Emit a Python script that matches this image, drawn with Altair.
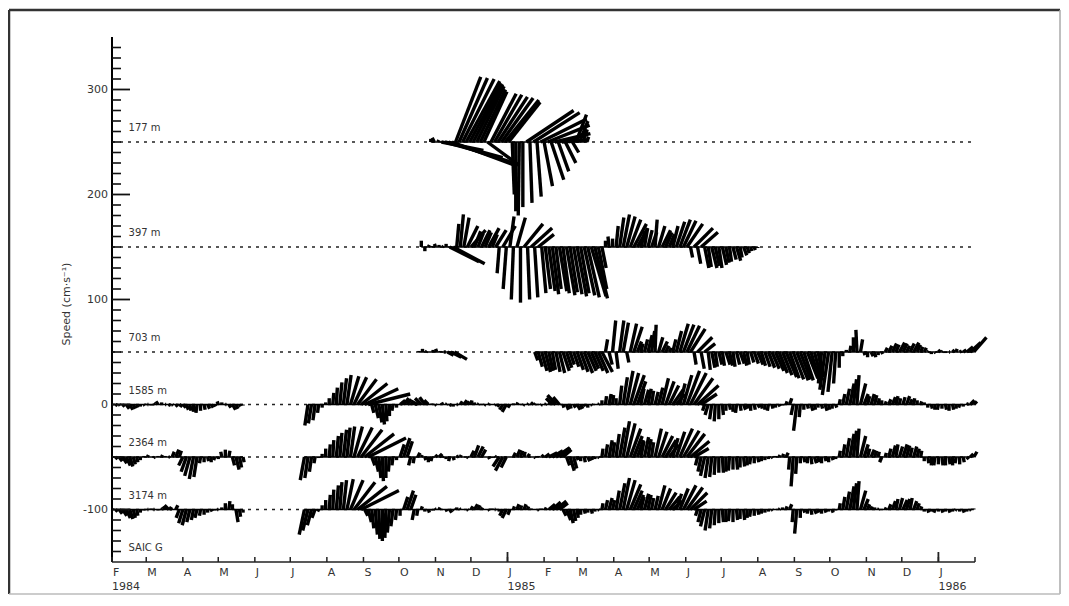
import altair as alt
import pandas as pd

# ---------------- data ----------------
DEPTHS = ["177 m", "397 m", "703 m", "1585 m", "2364 m", "3174 m"]
OFFSETS = [250, 150, 50, 0, -50, -100]
MOORING = "SAIC G"
MOORING_Y = -137
START, END = "1984-02-01", "1986-02-01"
STEP = 3            # days between sticks
DOTTED_END_DAY = 728
LABEL_DAY = 14
LABEL_RISE = 13
MAJOR_Y = [-100, 0, 100, 200, 300]
MINOR_Y = [v for v in range(-140, 350, 10) if v % 100 != 0]
MONTH_LETTERS = ["F", "M", "A", "M", "J", "J", "A", "S", "O", "N", "D", "J",
                 "F", "M", "A", "M", "J", "J", "A", "S", "O", "N", "D", "J"]
YEAR_DATES = ["1984-02-01", "1985-01-01", "1986-01-01"]
YEAR_TEXT = ["1984", "1985", "1986"]
Y_TITLE = "Speed (cm·s⁻¹)"

# 177 m : start day 270
u177 = [0, -2, 1, 40, 55, 62, 62, 24, 27, 30, 32, 30, 28, 26, 24, 22, 30, 24, 26, 28,
        30, 32, 30, 2, 0, -1, 0, 45, 2, 44, 4, 44, 8, 40, 12, 34, 10, 26, 10, 18,
        6, 10, 8, 4, 2]
v177 = [3, 4, 2, -8, -15, -20, -23, 62, 61, 60, 58, 56, 55, 53, 50, 48, -22, 46, 45, 43,
        42, 40, 38, -50, -66, -70, -62, 30, -58, 28, -52, 22, -42, 16, -36, 8, -28, 2, -20, 10,
        -10, 26, 20, 12, 5]

# 397 m : start day 262
u397 = [0, 0, 1, 0, -1, 0, 1, 0, 28, 30, 2, 3, 5, 10, 14, 6, 5, 8, 6, 10,
        5, 10, -2, 12, -3, 4, -2, 8, 0, 18, 2, 20, 3, 15, 4, 5, 6, 6, 5, 7,
        6, 8, 7, 8, 9, 8, 10, 11, 14, 12, 8, 4, 0, -1, 0, 2, 4, 6, 8, 10,
        12, 10, 4, 3, 4, 5, 2, 6, 8, 6, 5, 5, 8, 10, 12, 15, 2, 18, 3, 16,
        4, 3, 5, 4, 3, 4, 3, 2, 3, 4, 2, 3, 2, 1, 1, 0]
v397 = [6, -4, 2, 1, 3, 2, 1, 3, -14, -16, 22, 31, 28, 20, 16, 15, 13, 16, 14, 18,
        12, 16, -25, 20, -40, 29, -50, 28, -53, 22, -50, 18, -48, 12, -44, -40, -42, -45, -40, -42,
        -44, -46, -43, -45, -47, -44, -46, -48, -47, -49, -40, -20, 6, 10, 8, 20, 28, 31, 29, 26,
        22, 18, 15, 18, 16, 14, 26, 20, 16, 14, 12, 20, 24, 26, 25, 22, -10, 18, -16, 14,
        -20, -19, -20, -18, -20, -17, -15, -14, -12, -13, -10, -8, -6, -4, -3, -1]

# 703 m : pieces starting day 260 and day 358
u703a = [0, 0, 1, 0, 0, -1, 0, 2, 6, 10, 12]
v703a = [1, 3, 1, 0, 2, 3, 1, 0, -3, -5, -7]
u703b = [3, 4, 5, 5, 4, 3, 4, 5, 6, 5, 4, 5, 6, 7, 8, 8, 7, 8, 9, 10,
         2, 3, 3, 2, 4, 5, 2, 6, 8, 4, 2, 3, 4, 3, 1, 4, 5, 3, 2,
         3, 5, 8, 10, 12, 14, 2, 14, 3, 10, 2,
         3, 2, 3, 2, 4, 3, 2, 3, 4, 3, 2, 3, 4, 5, 4, 5,
         6, 7, 8, 8, 9, 10, 9, 10, 11, 10, 9, 10, 8, 7, 5,
         -3, -5, -6, -4, -2, 0, 0, 0, 1, 0, -1, 2, 1, 0, 2, 1, 0, 1,
         2, 3, 4, 3, 5, 4, 3, 4, 5, 3, 2, 2, 1, 0, 1, 2, 1, 0, 1, 2, 1, 2, 3, 6, 10, 12]
v703b = [-8, -14, -18, -19, -18, -17, -19, -20, -18, -15, -12, -14, -17, -19, -20, -18, -16, -18, -20, -19,
         12, -12, 30, -16, 30, 28, -10, 27, 24, 10, 8, 12, 16, 20, 26, 14, 10, 6, 4, 12,
         20, 27, 26, 25, 22, -12, 14, -16, 8, -17, -15, -14, -12, -13, -12, -13, -14, -12, -11, -13,
         -12, -10, -11, -12, -13, -14, -15, -16, -18, -20, -22, -24, -25, -26, -27, -26, -27, -25, -26, -27,
         -24, -30, -36, -41, -38, -30, -15, -4, 2, 6, 14, 21, 12, -3, -5, -4, -5, -3, -2, 4,
         6, 8, 7, 9, 8, 6, 8, 9, 7, 5, 4, 1, -2, -1, 2, 1, -1, 0, 2, 3, 1, 2, 5, 9, 14]

# 1585 m : pieces starting day 0 and day 166
u1585a = [1, 2, 1, 2, 3, 3, 2, 1, 0, 1, 1, 0, -1, -2, 0, 1, 2, 1, 2, 3,
          3, 2, 1, 0, -1, 0, 1, 2, 2, 1, -1, 0, 1, 2, 3, 2, 1, 0]
v1585a = [0, -1, -1, -2, -4, -5, -4, -3, -2, -1, 0, -1, 1, 3, 2, 0, -1, -1, -2, -2,
          -3, -5, -6, -7, -8, -6, -5, -4, -3, -2, 3, 2, 0, -3, -5, -4, -2, -1]
u1585b = [-3, -3, -2, -1, 0, 0, 0, 1, 1, 2, 3, 4, 8, 12, 18, 25, 32, 40,
          2, 3, 3, 2, 1, 0, -1, 0, 5, 5, 4, 3, 2, -6, -6, -5, -4,
          0, 1, 0, -1, 1, 2, 0, 1, 2, 3, 2, 1, 0, 1, 0, -1, 1, 0, -1, -2,
          -3, -4, -2, 0, 1, 0, -1, 1, 2, 1, 0, -1, 1, 2, -6, -8, -6,
          1, 2, 1, 2, 3, 2, 1, 0, 1, 0, 1, 0, 1, 2, 1, 0,
          2, 4, 6, 8, 10, 8, 3, 4, 3, 2, 3, 4, 6, 8, 9, 10, 8,
          5, 8, 12, 15, 18, 20, 15, -2, -3, -2, -1, 0, 1, 0,
          1, 0, -1, 1, 2, 1, 0, 1, 2, 1, 0, -1, 1, 0, 1, 0,
          1, 2, -2, -3, -1, 0, 1, 2, 1, 0, 1, 2, 1, 0, 1,
          1, 2, 3, 4, 3, 2, 5, 4, 2, 3, 2, 1, 0, 1, 2, 3, 2, 1, 2, 3, 2, 1, 0, 1, 0,
          0, 1, 0, -1, 0, 1, 0, 1, 0, -1, 0, 2, 4, 3]
v1585b = [-20, -18, -15, -8, -3, 2, 6, 11, 16, 21, 25, 28, 27, 26, 24, 20, 15, 10, -8, -13,
          -17, -19, -16, -11, -6, -3, 4, 6, 5, 3, 1, 3, 6, 7, 4, 1, -1, 0, 2, 1,
          -1, -2, 0, 3, 4, 3, 4, 2, 1, 0, -1, 1, 0, -1, -2, -5, -7, -3, 1, 2,
          0, -1, 1, 2, 1, 0, -1, 1, 3, 6, 9, 7, -3, -5, -4, -3, -5, -4, -2, -3,
          -1, 0, 1, 4, 8, 10, 9, 6, 18, 26, 32, 30, 28, 22, 15, 14, 15, 13, 12, 16,
          25, 22, 18, 14, 10, 20, 28, 32, 30, 25, 18, 10, -6, -10, -14, -16, -14, -10, -6, -5,
          -7, -8, -6, -5, -4, -6, -5, -3, -4, -5, -6, -4, -3, -2, -1, 3, 6, -10, -25, -12,
          -5, -4, -6, -5, -3, -4, -6, -5, -4, -3, 5, 10, 15, 20, 24, 28, 20, 10, 8, 10,
          9, 6, 4, 3, 5, 7, 8, 6, 7, 8, 5, 6, 4, 3, 2, -3, -4, -5, -5, -4,
          -5, -6, -5, -4, -3, -2, 1, 4, 3]

# 2364 m : pieces starting day 0 and day 163
u2364a = [0, 2, 3, 4, 4, 3, 2, 1, 0, 0, 1, 0, -1, 0, 1, 0, 1, 2, 3, 2,
          -4, -5, -5, -4, -3, -1, 0, 1, 0, -1, 0, -1, 0, 1, 2, 3, 2, 1]
v2364a = [0, -2, -4, -6, -8, -9, -7, -5, -3, 1, 2, 0, -1, 1, 2, 1, 0, 5, 7, 6,
          -8, -14, -18, -21, -19, -6, -5, -4, -5, -3, -2, 5, 7, 6, -8, -12, -10, -5]
u2364b = [-4, -3, -2, -1, 0, 0, 0, 1, 1, 2, 2, 3, 3, 4, 8, 14, 20, 28, 36,
          3, 3, 2, 1, 0, -1, -1, 0, 4, 6, 5, -2, -1, 2, 1,
          1, 0, -1, 2, 3, 1, 0, -1, 1, 2, 1, 0, 1, 3, 4, 5, 4, 0, 1, 0, -1,
          -6, -7, -5, 0, 2, 3, 2, 1, 2, 0, 1, 0, 2, 4, 8, 10, 12, 10, 8, 3, 4, 3,
          1, 0, 1, 2, 1, 0, 1, 1, 2, 3, 2, 3, 5, 6, 8, 10, 8, 6, 3, 4, 3, 2,
          6, 8, 10, 10, 9, 5, 8, 12, 15, 17, 18, 14,
          -2, -3, -4, -3, -2, -1, 0, 1, 0, -1, 0, 1, 0, 1, 0, -1, 0, 1, 0, 0,
          0, 1, 0, 1, 1, 2, -1, -2, -1, 0, 1, 0, 1, 2, 1, 0, 1, 0, 1, 0,
          1, 2, 3, 4, 3, 2, 5, 4, 2, 3, 2, 1, -2, 1, 2, 3, 2, 3, 4, 3, 2, 3, 2, 1,
          0, 1, 0, -1, 0, 1, 0, 1, 0, -1, 0, 1, 2, 3, 3]
v2364b = [-22, -20, -14, -6, -1, 3, 8, 12, 16, 20, 23, 26, 28, 29, 29, 28, 26, 22, 18,
          -8, -14, -20, -23, -20, -14, -8, -3, 12, 18, 15, -8, -6, 4, 2,
          -3, -5, -4, 2, 3, 1, -2, -4, -3, 1, 2, 0, -1, 6, 11, 10, 7, 0, -2, -1, 1,
          -9, -13, -10, 0, 4, 7, 6, 5, 3, 0, -1, 1, 2, 3, 4, 6, 8, 9, 7, -8, -13, -11,
          -3, -4, -5, -4, -3, -2, -1, 8, 12, 16, 14, 22, 28, 34, 32, 27, 20, 16, 15, 19, 17, 14,
          27, 24, 20, 16, 12, 18, 24, 27, 25, 22, 15, 8,
          -8, -14, -18, -20, -19, -17, -15, -15, -14, -13, -12, -12, -10, -9, -8, -7, -6, -5, -4, -3,
          -2, -1, 1, 2, 3, 4, -12, -28, -16, -6, -5, -6, -7, -6, -5, -6, -4, -5, -3, -2,
          6, 12, 18, 22, 25, 27, 20, 12, 8, 7, 6, 5, -5, 4, 8, 11, 12, 10, 12, 11, 9, 10, 8, 6,
          -4, -6, -8, -8, -7, -8, -8, -7, -8, -6, -7, -5, -2, 3, 5]

# 3174 m : pieces starting day 0 and day 163
u3174a = [1, 2, 3, 4, 4, 3, 2, 1, 0, 0, 1, 0, -1, 0, 1, -2, -4, -3, 2,
          -3, -4, -4, -3, -2, -2, -1, 0, 0, 1, 0, -1, 0, 0, 1, 0, 2, 1, 0]
v3174a = [-1, -2, -4, -6, -8, -9, -8, -6, -3, -1, 0, 1, 0, -1, 1, 3, 4, 2, 4,
          -8, -13, -15, -12, -10, -8, -6, -5, -3, -2, -1, 0, 2, 6, 8, 5, -12, -7, -3]
u3174b = [-5, -5, -4, -3, -1, 0, 0, 1, 1, 2, 2, 3, 6, 12, 20, 28, 36,
          3, 3, 2, 2, 1, 0, -1, -2, -2, -1, 0, 4, 6, 5, -2, -1, 1,
          0, 1, 0, -1, 1, 0, 1, 2, 1, 0, -1, 0, 1, 2, 3, 2, 1, 0, 1, 0, -1, 0,
          -3, -4, -2, 1, 2, 1, 2, 1, 0, 0, 1, 0, 1,
          6, 8, 10, 8, 3, 4, 3, 2, 1, 0, 1, 0, 1, 0, 1, 1, 2, 3, 2,
          3, 5, 6, 8, 10, 8, 6, 3, 4, 3, 2, 3, 6, 8, 10, 10, 9, 5, 8, 12, 15, 16, 12,
          -2, -3, -4, -3, -2, -1, 0, 1, 0, -1, 0, 1, 0, 1, 0, -1, 0, 1, 0, 0,
          0, 1, 0, 1, 0, 1, 2, -1, -2, 0, 1, 0, 1, 2, 1, 0, 1, 0, 1, 0,
          1, 2, 3, 4, 3, 2, 5, 4, 2, 1, 0, 1, 0, 1, 2, 3, 2, 3, 4, 3, 2, 3, 2, 1,
          0, 1, 0, -1, 0, 1, 0, 1, 0, -1, 0, 1, 0, 1, 0]
v3174b = [-24, -20, -15, -8, -2, 4, 9, 14, 19, 23, 26, 28, 29, 28, 26, 22, 18,
          -6, -12, -18, -24, -28, -30, -27, -22, -16, -10, -6, 12, 18, 14, -10, -6, 3,
          -2, -3, -1, 1, 2, 0, -2, -3, -1, 2, 1, 0, -1, 3, 5, 4, 2, 0, -1, 1, 0, -2,
          -6, -8, -5, 3, 5, 4, 5, 3, 1, 0, -1, 1, 2,
          5, 7, 8, 6, -6, -10, -13, -11, -8, -5, -4, -3, -4, -2, -1, 6, 9, 11, 9,
          18, 25, 30, 28, 24, 18, 14, 12, 15, 14, 11, 13, 23, 20, 16, 12, 8, 15, 20, 23, 21, 16, 8,
          -6, -12, -16, -20, -18, -15, -13, -12, -12, -11, -12, -10, -9, -10, -8, -7, -6, -5, -4, -3,
          -2, -1, 0, 1, 2, 3, 5, -12, -23, -8, -3, -4, -5, -4, -3, -4, -3, -2, -3, -1,
          6, 12, 17, 22, 25, 27, 18, 10, 5, 3, 2, 1, 0, 2, 5, 8, 10, 11, 9, 10, 11, 8, 6, 3,
          -2, -3, -2, -3, -2, -3, -2, -3, -2, -1, -2, -3, -2, -1, 1]

SEGMENTS = {
    "177 m": [(270, u177, v177)],
    "397 m": [(262, u397, v397)],
    "703 m": [(260, u703a, v703a), (358, u703b, v703b)],
    "1585 m": [(0, u1585a, v1585a), (166, u1585b, v1585b)],
    "2364 m": [(0, u2364a, v2364a), (163, u2364b, v2364b)],
    "3174 m": [(0, u3174a, v3174a), (163, u3174b, v3174b)],
}

# ---------------- geometry / helpers ----------------
W, H = 863, 525
Y_DOMAIN = [-150, 350]
DAY_MS = 86400000


def ms(s):
    return int(pd.Timestamp(s, tz="UTC").value // 1_000_000)


T0, T1 = ms(START), ms(END)
SPAN_DAYS = (T1 - T0) / DAY_MS
# isotropic sticks: east component uses the same pixel scale as speed
K = (H / (Y_DOMAIN[1] - Y_DOMAIN[0])) / (W / SPAN_DAYS)

stick_rows, base_rows = [], []
for name, off in zip(DEPTHS, OFFSETS):
    for start_day, us, vs in SEGMENTS[name]:
        assert len(us) == len(vs), (name, start_day, len(us), len(vs))
        for i, (u, v) in enumerate(zip(us, vs)):
            t = T0 + (start_day + STEP * i) * DAY_MS
            stick_rows.append({"t": t, "t2": t + u * K * DAY_MS, "y": off, "y2": off + v})
        base_rows.append({"t": T0 + start_day * DAY_MS,
                          "t2": T0 + (start_day + STEP * (len(us) - 1)) * DAY_MS, "y": off})

sticks = pd.DataFrame(stick_rows)
bases = pd.DataFrame(base_rows)
dotted = pd.DataFrame({"t": [T0] * len(OFFSETS),
                       "t2": [T0 + DOTTED_END_DAY * DAY_MS] * len(OFFSETS),
                       "y": OFFSETS})
labels = pd.DataFrame({"t": [T0 + LABEL_DAY * DAY_MS] * (len(DEPTHS) + 1),
                       "y": [o + LABEL_RISE for o in OFFSETS] + [MOORING_Y],
                       "text": DEPTHS + [MOORING]})

months = pd.date_range(START, END, freq="MS", tz="UTC")
month_df = pd.DataFrame({"t": [int(m.value // 1_000_000) for m in months],
                         "jan": [m.month == 1 for m in months]})
mlabel_df = pd.DataFrame({"t": month_df["t"][:len(MONTH_LETTERS)], "text": MONTH_LETTERS})
year_df = pd.DataFrame({"t": [ms(d) for d in YEAR_DATES], "text": YEAR_TEXT})
ylabel_df = pd.DataFrame({"y": MAJOR_Y, "text": [str(v) for v in MAJOR_Y]})
ytick_minor = pd.DataFrame({"y": MINOR_Y})
ytick_major = pd.DataFrame({"y": MAJOR_Y})
one = pd.DataFrame({"text": [Y_TITLE]})

xscale = alt.Scale(type="utc", domain=[T0, T1])
yscale = alt.Scale(domain=Y_DOMAIN, nice=False, zero=False)
X = dict(scale=xscale, axis=None)
Y = dict(scale=yscale, axis=None)
TXT = dict(font="DejaVu Sans", fontSize=11, color="#333")

dotted_layer = alt.Chart(dotted).mark_rule(color="#222", strokeWidth=1.6, strokeDash=[3, 5]).encode(
    x=alt.X("t:T", **X), x2="t2:T", y=alt.Y("y:Q", **Y))

base_layer = alt.Chart(bases).mark_rule(color="black", strokeWidth=1.6).encode(
    x=alt.X("t:T", **X), x2="t2:T", y=alt.Y("y:Q", **Y))

stick_layer = alt.Chart(sticks).mark_rule(color="black", strokeWidth=3.4).encode(
    x=alt.X("t:T", **X), x2="t2:T", y=alt.Y("y:Q", **Y), y2="y2:Q")

label_layer = alt.Chart(labels).mark_text(
    align="left", baseline="middle", font="DejaVu Sans", fontSize=10, color="#333").encode(
    x=alt.X("t:T", **X), y=alt.Y("y:Q", **Y), text="text:N")

month_text = alt.Chart(mlabel_df).mark_text(align="left", baseline="top", dx=1, **TXT).encode(
    x=alt.X("t:T", **X), y=alt.value(H + 5), text="text:N")
year_text = alt.Chart(year_df).mark_text(align="left", baseline="top", **TXT).encode(
    x=alt.X("t:T", **X), y=alt.value(H + 19), text="text:N")
ylab_text = alt.Chart(ylabel_df).mark_text(align="right", baseline="middle", **TXT).encode(
    y=alt.Y("y:Q", **Y), x=alt.value(-4), text="text:N")
ytitle = alt.Chart(one).mark_text(angle=270, align="center", baseline="middle", **TXT).encode(
    x=alt.value(-45), y=alt.value(267), text="text:N")

# axis lines and inward ticks
x_domain = alt.Chart(one).mark_rule(color="#222", strokeWidth=1.5).encode(
    x=alt.value(0), x2=alt.value(W), y=alt.value(H))
y_domain = alt.Chart(one).mark_rule(color="#000", strokeWidth=2).encode(
    x=alt.value(0), y=alt.value(0), y2=alt.value(H))
xt_month = alt.Chart(month_df).mark_rule(color="#222", strokeWidth=1.5).encode(
    x=alt.X("t:T", **X), y=alt.value(H), y2=alt.value(H - 5))
xt_jan = alt.Chart(month_df[month_df["jan"]]).mark_rule(color="#222", strokeWidth=1.8).encode(
    x=alt.X("t:T", **X), y=alt.value(H), y2=alt.value(H - 10))
yt_minor = alt.Chart(ytick_minor).mark_rule(color="#111", strokeWidth=1.6).encode(
    y=alt.Y("y:Q", **Y), x=alt.value(0), x2=alt.value(9))
yt_major = alt.Chart(ytick_major).mark_rule(color="#111", strokeWidth=1.8).encode(
    y=alt.Y("y:Q", **Y), x=alt.value(0), x2=alt.value(18))

# outer frame of the figure
frame_top = alt.Chart(one).mark_rule(color="#333", strokeWidth=2.5).encode(
    x=alt.value(-103), x2=alt.value(948), y=alt.value(-27), y2=alt.value(-27))
frame_left = alt.Chart(one).mark_rule(color="#333", strokeWidth=2.5).encode(
    x=alt.value(-103), x2=alt.value(-103), y=alt.value(-27), y2=alt.value(557))
frame_right = alt.Chart(one).mark_rule(color="#aaa", strokeWidth=1.5).encode(
    x=alt.value(948), x2=alt.value(948), y=alt.value(-27), y2=alt.value(557))
frame_bottom = alt.Chart(one).mark_rule(color="#bbb", strokeWidth=1.5).encode(
    x=alt.value(-103), x2=alt.value(948), y=alt.value(557), y2=alt.value(557))

chart = alt.layer(
    dotted_layer, base_layer, stick_layer, label_layer,
    month_text, year_text, ylab_text, ytitle,
    x_domain, y_domain, xt_month, xt_jan, yt_minor, yt_major,
    frame_top, frame_left, frame_right, frame_bottom,
).properties(
    width=W, height=H,
    padding={"left": 104, "top": 29, "right": 86, "bottom": 33},
    autosize=alt.AutoSizeParams(type="none"),
    background="white",
).configure(font="DejaVu Sans").configure_view(stroke=None)

chart.save("out.html", embed_options={"renderer": "svg", "actions": False})
